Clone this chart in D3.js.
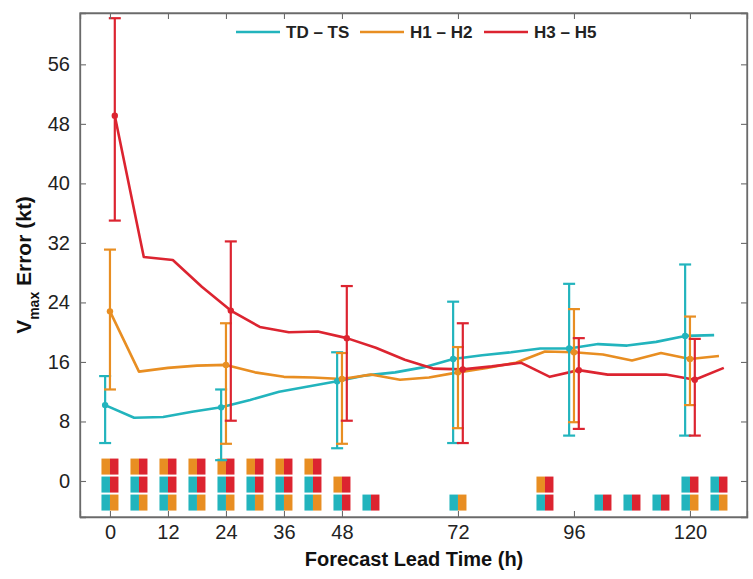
<!DOCTYPE html>
<html>
<head>
<meta charset="utf-8">
<script src="https://cdn.jsdelivr.net/npm/d3@7"></script>
<style>
  html, body { margin: 0; padding: 0; background: #fff; }
  svg { display: block; }
  text { font-family: "Liberation Sans", Arial, Helvetica, sans-serif; }
</style>
</head>
<body>
<svg id="chart" width="753" height="579"></svg>
<script>
// Lead times (h) at which the mean errors are sampled
const leadTimes = [0, 6, 12, 18, 24, 30, 36, 42, 48, 54, 60, 66, 72, 78, 84, 90, 96, 102, 108, 114, 120, 126];

// Mean Vmax error (kt) by intensity class
const tdTs = [10.2, 8.5, 8.6, 9.3, 9.9, 10.9, 12.0, 12.7, 13.4, 14.2, 14.6, 15.3, 16.4, 16.9, 17.3, 17.8, 17.8, 18.4, 18.2, 18.7, 19.5, 19.6];
const h1H2 = [22.8, 14.7, 15.2, 15.5, 15.6, 14.6, 14.0, 13.9, 13.7, 14.3, 13.6, 13.9, 14.6, 15.2, 15.9, 17.4, 17.3, 17.0, 16.2, 17.2, 16.4, 16.8];
const h3H5 = [49.1, 30.1, 29.7, 26.1, 22.9, 20.7, 20.0, 20.1, 19.2, 17.9, 16.3, 15.1, 15.0, 15.4, 15.9, 14.0, 14.9, 14.3, 14.3, 14.3, 13.6, 15.2];

// Lead times carrying an error bar, with lower / upper bounds (kt)
const barLeads = [0, 24, 48, 72, 96, 120];
const tdTsLow  = [5.1, 2.8, 4.4, 5.1, 6.1, 6.1];
const tdTsHigh = [14.1, 12.3, 17.3, 24.1, 26.5, 29.1];
const h1H2Low  = [12.3, 5.0, 5.0, 7.1, 7.9, 10.2];
const h1H2High = [31.1, 21.2, 17.2, 18.0, 23.1, 22.1];
const h3H5Low  = [35.0, 8.1, 8.1, 5.1, 7.0, 6.1];
const h3H5High = [62.2, 32.2, 26.2, 21.2, 19.2, 19.1];

// Class names and colours
const seriesNames = ["TD \u2013 TS", "H1 \u2013 H2", "H3 \u2013 H5"];
const seriesColors = ["#22b4bd", "#e88e22", "#dc2430"];

// Pairs of classes whose errors differ significantly at each lead time
// (0 = TD-TS, 1 = H1-H2, 2 = H3-H5), stacked from the bottom up
const sigLeads = [0, 6, 12, 18, 24, 30, 36, 42, 48, 54, 72, 90, 102, 108, 114, 120, 126];
const sigPairs = [
  [[0,1],[0,2],[1,2]], [[0,1],[0,2],[1,2]], [[0,1],[0,2],[1,2]], [[0,1],[0,2],[1,2]],
  [[0,1],[0,2],[1,2]], [[0,1],[0,2],[1,2]], [[0,1],[0,2],[1,2]], [[0,1],[0,2],[1,2]],
  [[0,2],[1,2]], [[0,2]], [[0,1]], [[0,2],[1,2]],
  [[0,2]], [[0,2]], [[0,2]], [[0,1],[0,2]], [[0,1],[0,2]]
];

// Axis ticks
const xTicks = [0, 12, 24, 36, 48, 72, 96, 120];
const yTicks = [0, 8, 16, 24, 32, 40, 48, 56];

// ---- layout ----
const W = 753, H = 579;
const margin = { left: 80, top: 13, right: 6, bottom: 62 };
const plotW = W - margin.left - margin.right;
const plotH = H - margin.top - margin.bottom;

const svg = d3.select("#chart");
const g = svg.append("g").attr("transform", `translate(${margin.left},${margin.top})`);

const x = d3.scaleLinear().domain([-6.2, 131.8]).range([0, plotW]);
const y = d3.scaleLinear().domain([-4.84, 62.9]).range([plotH, 0]);

// horizontal offset (h) per class so the error bars do not overlap
const seriesShift = [-1, 0, 1];

const series = [
  { values: tdTs, low: tdTsLow, high: tdTsHigh },
  { values: h1H2, low: h1H2Low, high: h1H2High },
  { values: h3H5, low: h3H5Low, high: h3H5High }
];

// ---- significance squares ----
const sqH = 16, sqW = 17, rowStep = 18;
const sigG = g.append("g");
sigLeads.forEach((lead, i) => {
  sigPairs[i].forEach((pair, k) => {
    const cy = y(-2.9) - k * rowStep;
    const cx = x(lead);
    sigG.append("rect")
      .attr("x", cx - sqW / 2).attr("y", cy - sqH / 2)
      .attr("width", sqW / 2).attr("height", sqH)
      .attr("fill", seriesColors[pair[0]]);
    sigG.append("rect")
      .attr("x", cx).attr("y", cy - sqH / 2)
      .attr("width", sqW / 2).attr("height", sqH)
      .attr("fill", seriesColors[pair[1]]);
  });
});

// ---- lines ----
const line = d3.line().x(d => x(d[0])).y(d => y(d[1]));
series.forEach((s, si) => {
  const pts = leadTimes.map((t, i) => [t + seriesShift[si], s.values[i]]);
  g.append("path")
    .datum(pts)
    .attr("d", line)
    .attr("fill", "none")
    .attr("stroke", seriesColors[si])
    .attr("stroke-width", 2.6)
    .attr("stroke-linejoin", "round");
});

// ---- error bars ----
const capW = 12;
series.forEach((s, si) => {
  const eg = g.append("g").attr("stroke", seriesColors[si]).attr("stroke-width", 2.2);
  barLeads.forEach((lead, j) => {
    const cx = x(lead + seriesShift[si]);
    const mean = s.values[leadTimes.indexOf(lead)];
    eg.append("line").attr("x1", cx).attr("x2", cx).attr("y1", y(s.low[j])).attr("y2", y(s.high[j]));
    eg.append("line").attr("x1", cx - capW / 2).attr("x2", cx + capW / 2).attr("y1", y(s.low[j])).attr("y2", y(s.low[j]));
    eg.append("line").attr("x1", cx - capW / 2).attr("x2", cx + capW / 2).attr("y1", y(s.high[j])).attr("y2", y(s.high[j]));
    g.append("circle").attr("cx", cx).attr("cy", y(mean)).attr("r", 3.2).attr("fill", seriesColors[si]);
  });
});

// ---- axes (box with inward ticks on all sides) ----
const axisColor = "#6b6b6b";
const tickLen = 6;
const axB = g.append("g").attr("transform", `translate(0,${plotH})`)
  .call(d3.axisBottom(x).tickValues(xTicks).tickSize(-tickLen).tickPadding(8).tickFormat(d3.format("d")));
const axT = g.append("g")
  .call(d3.axisTop(x).tickValues(xTicks).tickSize(-tickLen).tickFormat(""));
const axL = g.append("g")
  .call(d3.axisLeft(y).tickValues(yTicks).tickSize(-tickLen).tickPadding(10).tickFormat(d3.format("d")));
const axR = g.append("g").attr("transform", `translate(${plotW},0)`)
  .call(d3.axisRight(y).tickValues(yTicks).tickSize(-tickLen).tickFormat(""));

[axB, axT, axL, axR].forEach(a => {
  a.select(".domain").attr("stroke", axisColor).attr("stroke-width", 1.3);
  a.selectAll(".tick line").attr("stroke", axisColor).attr("stroke-width", 1.1);
  a.selectAll(".tick text").attr("fill", "#222").style("font-size", "20px")
    .style("font-family", "'Liberation Sans', Arial, sans-serif");
});
g.append("rect").attr("x", 0).attr("y", 0).attr("width", plotW).attr("height", plotH)
  .attr("fill", "none").attr("stroke", axisColor).attr("stroke-width", 1.3);

// ---- axis titles ----
svg.append("text")
  .attr("x", 414).attr("y", 566)
  .attr("text-anchor", "middle")
  .style("font-size", "20px").style("font-weight", "bold").attr("fill", "#111")
  .text("Forecast Lead Time (h)");

const yTitle = svg.append("text")
  .attr("transform", `translate(31,${margin.top + plotH / 2}) rotate(-90)`)
  .attr("text-anchor", "middle")
  .style("font-size", "21px").style("font-weight", "bold").attr("fill", "#111");
yTitle.append("tspan").text("V");
yTitle.append("tspan").attr("baseline-shift", "sub").style("font-size", "14px").text("max");
yTitle.append("tspan").text(" Error (kt)");

// ---- legend ----
const legendX = [236, 360, 484];
const legG = svg.append("g");
seriesNames.forEach((name, i) => {
  legG.append("line")
    .attr("x1", legendX[i]).attr("x2", legendX[i] + 44)
    .attr("y1", 32).attr("y2", 32)
    .attr("stroke", seriesColors[i]).attr("stroke-width", 2.6);
  legG.append("text")
    .attr("x", legendX[i] + 50).attr("y", 38)
    .style("font-size", "17px").style("font-weight", "bold").attr("fill", "#222")
    .text(name);
});
</script>
</body>
</html>
